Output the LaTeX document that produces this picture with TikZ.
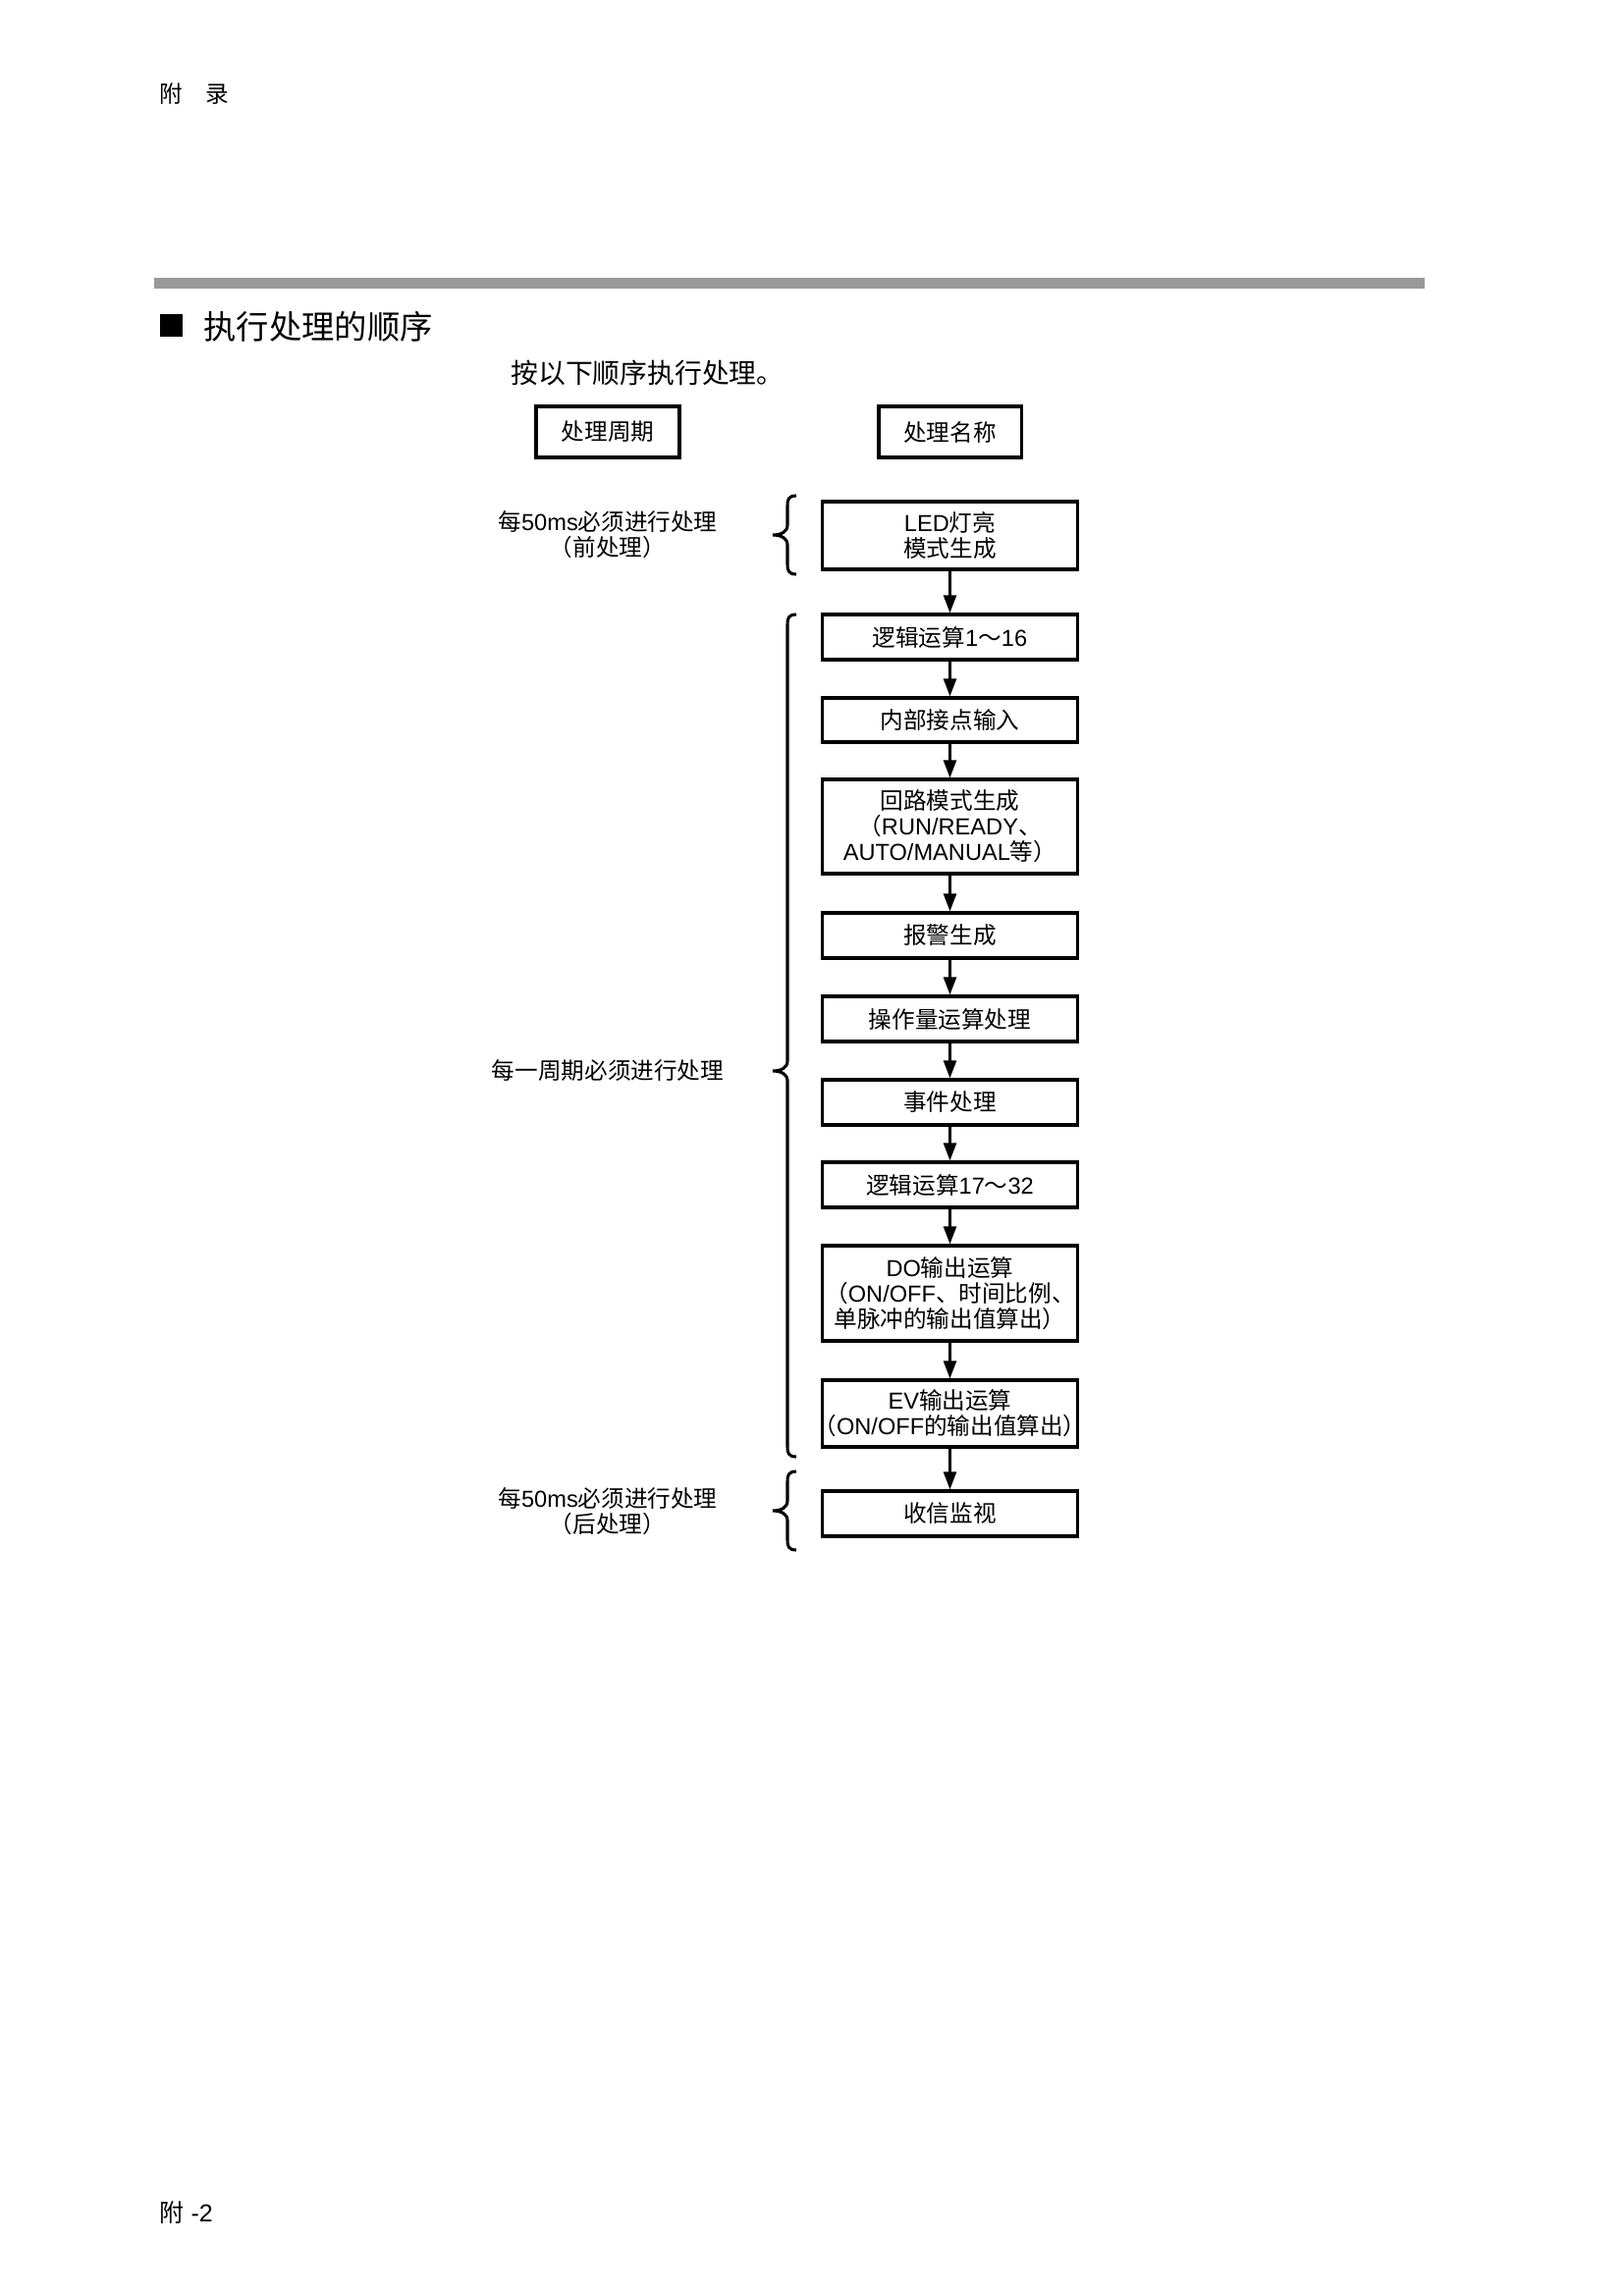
\documentclass[tikz,border=0pt]{standalone}
\usepackage{fontspec}
\setmainfont{Liberation Sans}
\newfontfamily\cjk{Noto Sans CJK SC}
\usetikzlibrary{arrows.meta}
\newcommand\C[1]{{\cjk #1}}
\definecolor{bargray}{gray}{0.6}
\begin{document}
\begin{tikzpicture}[x=0.3599pt,y=-0.3599pt,
  txt/.style={font=\fontsize{8.5}{9.4}\selectfont},
  procbox/.style={draw, line width=1.1pt, minimum width=93.9pt, minimum height=#1*0.3599pt, inner sep=0pt, align=center, txt},
  headbox/.style={draw, line width=1.4pt, minimum width=52.5pt, minimum height=18.7pt, inner sep=0pt, txt},
  flow/.style={line width=1.1pt, -{Triangle[length=6.5pt,width=4.6pt]}},
  bracepath/.style={line width=1.1pt},
  lbl/.style={align=center, inner sep=0pt, txt}]
\useasboundingbox (0,0) rectangle (1654,2339);

% page header / footer
\node[anchor=west, inner sep=0pt, txt] (hdr) at (162,96) {\C{附　录}};
\node[anchor=west, inner sep=0pt, font=\fontsize{9}{10}\selectfont] (ftr) at (162,2254) {\C{附} -2};

% gray rule
\fill[bargray] (157,283) rectangle (1451,294);

% section title
\fill[black] (163,320) rectangle (186,343);
\node[anchor=west, inner sep=0pt, font=\fontsize{12}{14}\selectfont] (title) at (207,333) {\C{执行处理的顺序}};
\node[anchor=west, inner sep=0pt, font=\fontsize{10}{12}\selectfont] (intro) at (520,380) {\C{按以下顺序执行处理。}};

% column headers
\node[headbox] (hcycle) at (619,440) {\C{处理周期}};
\node[headbox] (hname) at (967.5,440) {\C{处理名称}};

% process boxes
\node[procbox=69] (led) at (967.5,545.5) {LED\C{灯亮}\\\C{模式生成}};
\node[procbox=46] (l1) at (967.5,649) {\C{逻辑运算}1\C{～}16};
\node[procbox=45] (in) at (967.5,733.5) {\C{内部接点输入}};
\node[procbox=96] (loop) at (967.5,842) {\C{回路模式生成}\\\C{（}RUN/READY\C{、}\\AUTO/MANUAL\C{等）}};
\node[procbox=46] (alm) at (967.5,953) {\C{报警生成}};
\node[procbox=46] (mv) at (967.5,1038) {\C{操作量运算处理}};
\node[procbox=46] (evt) at (967.5,1123) {\C{事件处理}};
\node[procbox=46] (l2) at (967.5,1207) {\C{逻辑运算}17\C{～}32};
\node[procbox=97] (do) at (967.5,1317.5) {DO\C{输出运算}\\\C{（}ON/OFF\C{、时间比例、}\\\C{单脉冲的输出值算出）}};
\node[procbox=68] (ev) at (967.5,1440) {EV\C{输出运算}\\\kern-0.45em\C{（}ON/OFF\C{的输出值算出）}\kern-0.45em};
\node[procbox=46] (rx) at (967.5,1542) {\C{收信监视}};

% flow arrows
\draw[flow] (led) -- (l1);
\draw[flow] (l1) -- (in);
\draw[flow] (in) -- (loop);
\draw[flow] (loop) -- (alm);
\draw[flow] (alm) -- (mv);
\draw[flow] (mv) -- (evt);
\draw[flow] (evt) -- (l2);
\draw[flow] (l2) -- (do);
\draw[flow] (do) -- (ev);
\draw[flow] (ev) -- (rx);

% braces
\draw[bracepath] (811,505) .. controls (803,505) and (802,509) .. (802,515) -- (802,535)
  .. controls (802,542) and (795,545) .. (787,545) .. controls (795,545) and (802,548) .. (802,555)
  -- (802,575) .. controls (802,581) and (803,585) .. (811,585);
\draw[bracepath] (811,626) .. controls (803,626) and (802,630) .. (802,636) -- (802,1081)
  .. controls (802,1088) and (795,1091) .. (787,1091) .. controls (795,1091) and (802,1094) .. (802,1101)
  -- (802,1474) .. controls (802,1480) and (803,1484) .. (811,1484);
\draw[bracepath] (811,1499) .. controls (803,1499) and (802,1503) .. (802,1509) -- (802,1529)
  .. controls (802,1536) and (795,1539) .. (787,1539) .. controls (795,1539) and (802,1542) .. (802,1549)
  -- (802,1569) .. controls (802,1575) and (803,1579) .. (811,1579);

% cycle labels
\node[lbl] (pre) at (619,545) {\C{每}50ms\C{必须进行处理}\\\C{（前处理）}};
\node[lbl] (every) at (619,1091) {\C{每一周期必须进行处理}};
\node[lbl] (post) at (619,1540) {\C{每}50ms\C{必须进行处理}\\\C{（后处理）}};
\end{tikzpicture}
\end{document}
